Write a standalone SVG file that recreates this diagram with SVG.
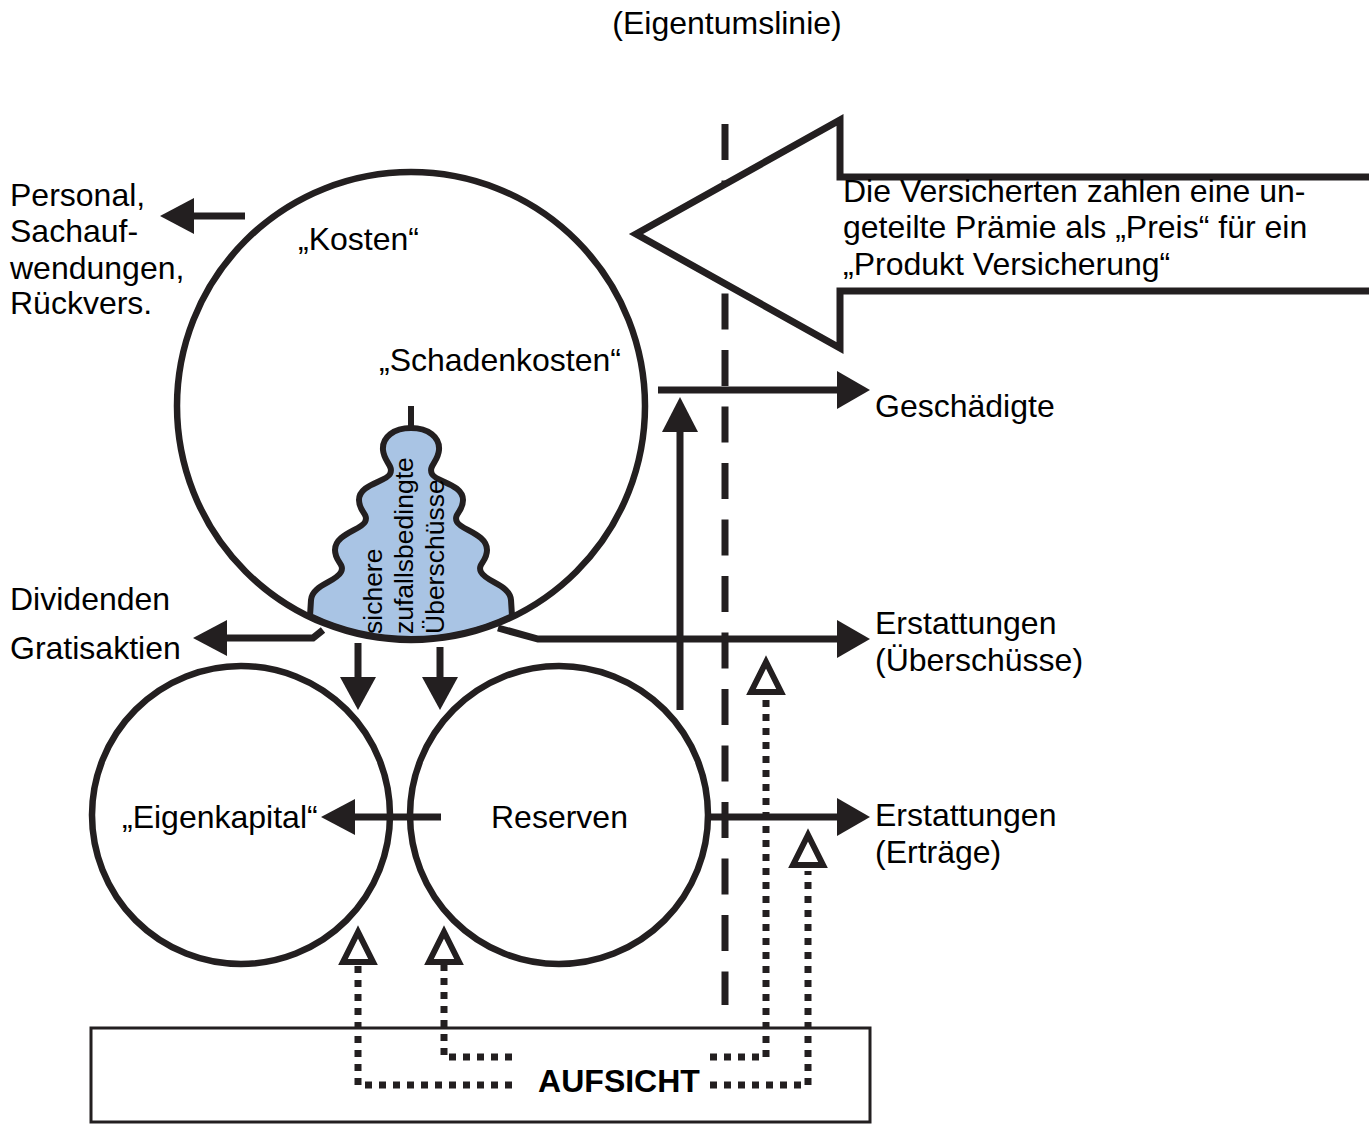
<svg xmlns="http://www.w3.org/2000/svg" width="1369" height="1124" viewBox="0 0 1369 1124">
<style>
text{font-family:"Liberation Sans",Arial,sans-serif;font-size:32px;fill:#000}
.b{font-weight:bold}
.v{font-size:26.5px}
.ln{stroke:#231f20;stroke-width:7;fill:none}
.circ{stroke:#231f20;stroke-width:6.5;fill:none}
.hd{fill:#231f20;stroke:none}
.dot{stroke:#231f20;stroke-width:7;fill:none;stroke-dasharray:7 7}
.hol{fill:#fff;stroke:#231f20;stroke-width:6;stroke-linejoin:miter}
</style>
<rect width="1369" height="1124" fill="#fff"/>
<text x="727" y="34" text-anchor="middle">(Eigentumslinie)</text>

<g id="aufsicht">
<rect x="91" y="1028" width="779" height="94" fill="#fff" stroke="#231f20" stroke-width="3"/>
<text class="b" x="619" y="1092" text-anchor="middle">AUFSICHT</text>
</g>

<g id="eigentumslinie">
<line x1="725" y1="124" x2="725" y2="1005" stroke="#231f20" stroke-width="7" stroke-dasharray="36 20.5"/>
</g>

<g id="connectors">
<line class="ln" x1="245" y1="216" x2="192" y2="216"/>
<polygon class="hd" points="160,216 194,198 194,234"/>
<line class="ln" x1="658" y1="390" x2="840" y2="390"/>
<polygon class="hd" points="870,390 837,371 837,409"/>
<line class="ln" x1="680" y1="710" x2="680" y2="428"/>
<polygon class="hd" points="680,397 662,432 698,432"/>
<polyline class="ln" points="498,628 538,639 840,639"/>
<polygon class="hd" points="870,639 837,620 837,658"/>
<polyline class="ln" points="323,630 313,638 225,638"/>
<polygon class="hd" points="193,638 227,620 227,656"/>
<line class="ln" x1="358" y1="643" x2="358" y2="680"/>
<polygon class="hd" points="358,710 340,677 376,677"/>
<line class="ln" x1="440" y1="647" x2="440" y2="680"/>
<polygon class="hd" points="440,710 422,677 458,677"/>
<line class="ln" x1="441" y1="817" x2="353" y2="817"/>
<polygon class="hd" points="321,817 355,799 355,835"/>
<line class="ln" x1="708" y1="817" x2="840" y2="817"/>
<polygon class="hd" points="870,817 837,798 837,836"/>
<polyline class="dot" points="512,1085 358,1085 358,965"/>
<polyline class="dot" points="512,1057 444,1057 444,965"/>
<polyline class="dot" points="710,1057 766,1057 766,698"/>
<polyline class="dot" points="710,1085 808,1085 808,871"/>
<polygon class="hol" points="358,932 343,962 373,962"/>
<polygon class="hol" points="444,932 429,962 459,962"/>
<polygon class="hol" points="766,662 751,692 781,692"/>
<polygon class="hol" points="808,835 793,865 823,865"/>
</g>

<g id="praemie">
<polygon points="636,234 840,120 840,177 1380,177 1380,291 840,291 840,348" fill="#fff" stroke="#231f20" stroke-width="7" stroke-linejoin="miter"/>
<text x="843" y="202">Die Versicherten zahlen eine un-</text>
<text x="843" y="238">geteilte Prämie als „Preis“ für ein</text>
<text x="843" y="275">„Produkt Versicherung“</text>
</g>

<g id="ueberschuesse">
<path d="M411,428 C428,428 440,437 439,450 C438,462 428,466 432,474 C436,482 463,484 463,500 C463,512 453,514 457,522 C461,530 487,534 487,550 C487,562 477,564 481,572 C486,582 510,585 511,600 L512,616 A234,234 0 0 1 310,616 L311,600 C312,585 336,582 341,572 C345,564 335,562 335,550 C335,534 361,530 365,522 C369,514 359,512 359,500 C359,484 386,482 390,474 C394,466 384,462 383,450 C382,437 394,428 411,428 Z" fill="#a9c4e4" stroke="#231f20" stroke-width="6"/>
<line x1="411" y1="406" x2="411" y2="430" stroke="#231f20" stroke-width="6"/>
<text class="v" transform="translate(382,634) rotate(-90)">sichere</text>
<text class="v" transform="translate(413,634) rotate(-90)">zufallsbedingte</text>
<text class="v" transform="translate(444,634) rotate(-90)">Überschüsse</text>
</g>

<g id="kosten">
<circle class="circ" cx="411" cy="406" r="234"/>
<text x="298" y="250">„Kosten“</text>
<text x="379" y="371">„Schadenkosten“</text>
</g>

<g id="eigenkapital">
<circle class="circ" cx="241" cy="815" r="149"/>
<text x="122" y="828">„Eigenkapital“</text>
</g>

<g id="reserven">
<circle class="circ" cx="559" cy="815" r="149"/>
<text x="491" y="828">Reserven</text>
</g>

<g id="labels">
<text x="10" y="206">Personal,</text>
<text x="10" y="242">Sachauf-</text>
<text x="10" y="279">wendungen,</text>
<text x="10" y="314">Rückvers.</text>
<text x="10" y="610">Dividenden</text>
<text x="10" y="659">Gratisaktien</text>
<text x="875" y="417">Geschädigte</text>
<text x="875" y="634">Erstattungen</text>
<text x="875" y="671">(Überschüsse)</text>
<text x="875" y="826">Erstattungen</text>
<text x="875" y="863">(Erträge)</text>
</g>
</svg>
